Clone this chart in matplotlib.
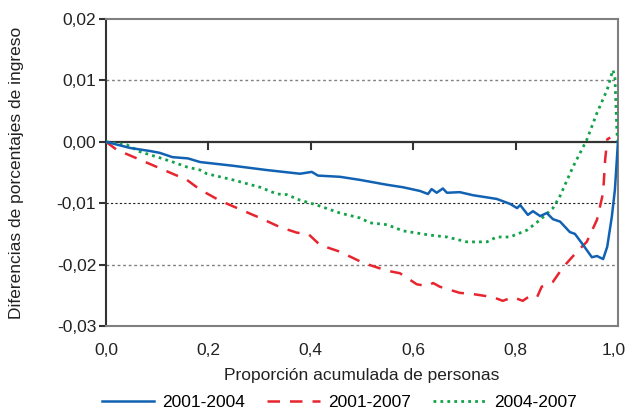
import matplotlib
matplotlib.use("Agg")
import matplotlib.pyplot as plt
import matplotlib.transforms as mtransforms

plt.rcParams["font.family"] = ["Liberation Sans", "DejaVu Sans"]

# 2001-2004
x_a = [0.0, 0.047, 0.086, 0.105, 0.13, 0.16, 0.184, 0.248, 0.314, 0.379, 0.402, 0.414,
       0.457, 0.496, 0.549, 0.58, 0.613, 0.629, 0.636, 0.646, 0.658, 0.666, 0.691,
       0.717, 0.763, 0.789, 0.803, 0.809, 0.824, 0.834, 0.848, 0.861, 0.873, 0.887,
       0.906, 0.916, 0.932, 0.949, 0.959, 0.971, 0.979, 0.988, 0.994, 1.0]
y_a = [0.0, -0.0010, -0.0015, -0.0018, -0.0025, -0.0027, -0.0033, -0.0039, -0.0046,
       -0.0052, -0.0049, -0.0055, -0.0057, -0.0062, -0.0070, -0.0074, -0.0080,
       -0.0085, -0.0077, -0.0083, -0.0076, -0.0083, -0.0082, -0.0087, -0.0093,
       -0.0101, -0.0108, -0.0103, -0.0119, -0.0113, -0.0121, -0.0116, -0.0126,
       -0.0130, -0.0147, -0.0150, -0.0168, -0.0188, -0.0186, -0.0191, -0.0171,
       -0.0122, -0.0078, 0.0]

# 2001-2007
x_b = [0.0, 0.021, 0.066, 0.119, 0.158, 0.184, 0.223, 0.262, 0.301, 0.34, 0.373, 0.395,
       0.418, 0.457, 0.502, 0.549, 0.574, 0.607, 0.627, 0.639, 0.652, 0.691, 0.717,
       0.756, 0.775, 0.795, 0.814, 0.828, 0.842, 0.851, 0.873, 0.893, 0.92, 0.939,
       0.959, 0.971, 0.975, 0.979, 0.985]
y_b = [0.0, -0.0013, -0.0029, -0.0048, -0.0062, -0.0078, -0.0096, -0.0110, -0.0124,
       -0.0139, -0.0148, -0.0150, -0.0168, -0.0179, -0.0197, -0.0210, -0.0214,
       -0.0232, -0.0235, -0.0230, -0.0236, -0.0246, -0.0248, -0.0253, -0.0259,
       -0.0253, -0.0259, -0.0251, -0.0253, -0.0236, -0.0228, -0.0204, -0.0179,
       -0.0163, -0.0127, -0.0083, -0.0029, 0.0004, 0.0007]

# 2004-2007
x_c = [0.0, 0.041, 0.066, 0.105, 0.131, 0.158, 0.184, 0.197, 0.248, 0.301, 0.334,
       0.353, 0.379, 0.412, 0.457, 0.496, 0.516, 0.549, 0.58, 0.633, 0.666, 0.705,
       0.744, 0.763, 0.789, 0.822, 0.848, 0.873, 0.887, 0.912, 0.939, 0.959, 0.979,
       0.990, 0.994, 0.998, 1.0]
y_c = [0.0, -0.0005, -0.0016, -0.0026, -0.0033, -0.0041, -0.0046, -0.0052, -0.0062,
       -0.0074, -0.0085, -0.0086, -0.0095, -0.0103, -0.0116, -0.0124, -0.0132,
       -0.0135, -0.0145, -0.0152, -0.0155, -0.0163, -0.0163, -0.0155, -0.0155,
       -0.0144, -0.0127, -0.0108, -0.0088, -0.0041, 0.0003, 0.0047, 0.0085,
       0.0117, 0.0106, 0.0015, 0.0]

x_ticks = [0.0, 0.2, 0.4, 0.6, 0.8, 1.0]
x_labels = ["0,0", "0,2", "0,4", "0,6", "0,8", "1,0"]
y_ticks = [-0.03, -0.02, -0.01, 0.0, 0.01, 0.02]
y_labels = ["-0,03", "-0,02", "-0,01", "0,00", "0,01", "0,02"]

BLUE = "#1262b3"
RED = "#e8252f"
GREEN = "#12a24a"
TXT = "#222222"
FS = 12.5

fig = plt.figure(figsize=(6.27, 4.12), dpi=100)
ax = fig.add_axes([0.169, 0.2087, 0.8166, 0.7452])
ax.set_xlim(0, 1)
ax.set_ylim(-0.03, 0.02)

# gridlines
ax.axhline(0.01, color="#808080", lw=1.0, ls=(0, (2, 2)), zorder=1)
ax.axhline(-0.02, color="#808080", lw=1.0, ls=(0, (2, 2)), zorder=1)
ax.axhline(-0.01, color="#222222", lw=0.8, ls=(0, (2, 2)), zorder=1)
# zero line with ticks
ax.axhline(0.0, color="#333333", lw=1.6, zorder=2)
for xt in x_ticks[1:-1]:
    ax.plot([xt, xt], [0, -0.0012], color="#333333", lw=1.5, zorder=2)

ax.plot(x_a, y_a, color=BLUE, lw=1.8, label="2001-2004", zorder=4)
ax.plot(x_b, y_b, color=RED, lw=1.8, ls=(0, (5, 4)), label="2001-2007", zorder=3)
ax.plot(x_c, y_c, color=GREEN, lw=2.0, ls=(0, (1, 1.5)), label="2004-2007", zorder=3)

for s in ["top", "right", "bottom"]:
    ax.spines[s].set_color("#7f7f7f")
    ax.spines[s].set_linewidth(1.5)
ax.spines["left"].set_color("#333333")
ax.spines["left"].set_linewidth(1.5)

ax.set_xticks(x_ticks)
ax.set_xticklabels(x_labels)
ax.set_yticks(y_ticks)
ax.set_yticklabels(y_labels)
ax.tick_params(axis="x", length=0, pad=12, labelsize=FS, colors=TXT)
ax.tick_params(axis="y", length=5, width=1.5, color="#333333", pad=2,
               labelsize=FS, labelcolor=TXT)
# keep last x tick label inside the canvas
last = ax.get_xticklabels()[-1]
last.set_transform(last.get_transform() +
                   mtransforms.ScaledTranslation(-3 / 72, 0, fig.dpi_scale_trans))

ax.set_xlabel("Proporción acumulada de personas", fontsize=FS, color=TXT)
ax.set_ylabel("Diferencias de porcentajes de ingreso", fontsize=FS, color=TXT)
ax.xaxis.set_label_coords(0.5, -0.16, transform=ax.transAxes)
ax.xaxis.label.set_va("center")
ax.yaxis.set_label_coords(-0.174, 0.5, transform=ax.transAxes)
ax.yaxis.label.set_va("center")

fig.legend(loc="center", bbox_to_anchor=(0.541, 0.024), ncol=3,
           frameon=False, fontsize=FS, handlelength=3.05, columnspacing=1.27,
           handletextpad=0.46, borderaxespad=0, borderpad=0)

fig.savefig("out.png", dpi=100)
